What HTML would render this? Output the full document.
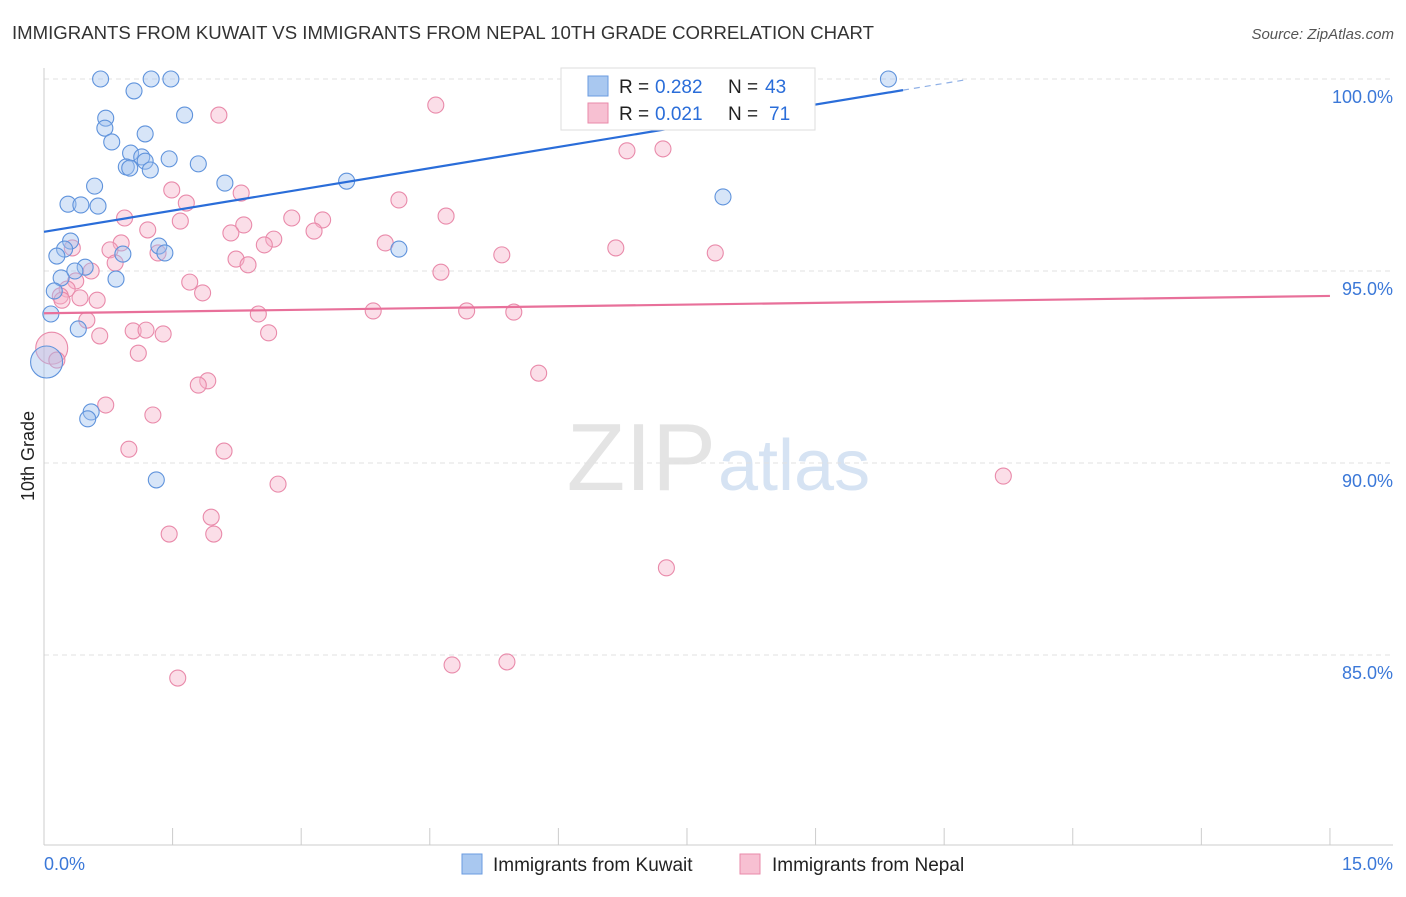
<!DOCTYPE html>
<html><head><meta charset="utf-8"><style>
body{margin:0;background:#fff;font-family:"Liberation Sans",sans-serif;}
svg text{font-family:"Liberation Sans",sans-serif;}
</style></head><body>
<svg id="chart" width="1406" height="892" viewBox="0 0 1406 892">
<text x="12" y="39" font-size="18.6" fill="#333">IMMIGRANTS FROM KUWAIT VS IMMIGRANTS FROM NEPAL 10TH GRADE CORRELATION CHART</text>
<text x="1394" y="39" font-size="15" fill="#555" font-style="italic" text-anchor="end">Source: ZipAtlas.com</text>
<text x="716" y="490" font-size="96" fill="#e4e4e4" text-anchor="end" font-family="Liberation Serif">ZIP</text>
<text x="718" y="490" font-size="72" fill="#d6e3f3">atlas</text>
<g id="grid"></g><g id="axes"></g><g id="marks"></g>
<text x="34" y="456" font-size="18" fill="#222" text-anchor="middle" transform="rotate(-90 34 456)">10th Grade</text>
<g>
<rect x="561" y="68" width="254" height="62" fill="#fff" stroke="#ddd"/>
<rect x="588" y="76" width="20" height="20" fill="#a9c8f0" stroke="#6a9be0"/>
<text x="619" y="93" font-size="19" fill="#222">R =</text>
<text x="655" y="93" font-size="19" fill="#2a6dd9">0.282</text>
<text x="728" y="93" font-size="19" fill="#222">N =</text>
<text x="765" y="93" font-size="19" fill="#2a6dd9">43</text>
<rect x="588" y="103" width="20" height="20" fill="#f7c0d2" stroke="#e98aaa"/>
<text x="619" y="120" font-size="19" fill="#222">R =</text>
<text x="655" y="120" font-size="19" fill="#2a6dd9">0.021</text>
<text x="728" y="120" font-size="19" fill="#222">N =</text>
<text x="769" y="120" font-size="19" fill="#2a6dd9">71</text>
</g>
<g>
<rect x="462" y="854" width="20" height="20" fill="#a9c8f0" stroke="#6a9be0"/>
<text x="493" y="871" font-size="19" fill="#222">Immigrants from Kuwait</text>
<rect x="740" y="854" width="20" height="20" fill="#f7c0d2" stroke="#e98aaa"/>
<text x="772" y="871" font-size="19" fill="#222">Immigrants from Nepal</text>
</g>
</svg>
<script>
const yTicks=[100,95,90,85];
const yTickLabels=["100.0%","95.0%","90.0%","85.0%"];
const xTicks=[0,1.5,3,4.5,6,7.5,9,10.5,12,13.5,15];
const kuwaitX=[0.66,1.25,1.48,9.85,1.05,1.64,0.72,0.71,1.18,0.79,1.01,1.14,1.46,0.96,1.00,1.18,1.24,1.80,2.11,3.53,0.59,7.92,0.28,0.43,0.63,0.31,0.24,1.34,1.41,0.92,0.15,4.14,0.48,0.36,0.20,0.84,0.12,0.08,0.40,0.03,0.55,0.51,1.31];
const kuwaitY=[100,100,100,100,99.69,99.06,98.98,98.72,98.57,98.36,98.07,97.97,97.92,97.71,97.68,97.86,97.63,97.79,97.29,97.34,97.21,96.93,96.74,96.72,96.69,95.78,95.57,95.65,95.47,95.44,95.39,95.57,95.10,95.00,94.82,94.79,94.48,93.88,93.49,92.63,91.33,91.15,89.56];
const kuwaitBig=[39];
const nepalX=[4.57,2.04,6.31,6.23,6.80,7.22,1.49,2.30,1.66,4.14,0.94,4.69,2.89,3.25,1.59,2.33,2.18,3.15,1.21,3.98,2.68,0.90,2.57,0.33,0.77,6.67,7.83,5.34,1.33,2.24,2.38,0.83,4.63,0.55,1.70,0.37,1.85,0.27,0.19,0.42,0.62,2.50,3.84,4.93,5.48,0.50,1.04,1.19,1.39,0.65,2.62,0.09,0.15,1.10,5.77,1.91,1.80,0.72,1.27,0.99,2.10,2.73,11.19,1.95,1.98,1.46,7.26,4.76,5.40,1.56,0.21];
const nepalY=[99.32,99.06,99.11,98.91,98.13,98.18,97.11,97.03,96.77,96.85,96.38,96.43,96.38,96.33,96.30,96.20,95.99,96.04,96.07,95.73,95.83,95.73,95.68,95.60,95.55,95.60,95.47,95.42,95.47,95.31,95.16,95.21,94.97,95.00,94.71,94.74,94.43,94.53,94.35,94.30,94.24,93.88,93.96,93.96,93.93,93.72,93.44,93.46,93.36,93.31,93.39,92.99,92.68,92.86,92.34,92.14,92.03,91.51,91.25,90.36,90.31,89.45,89.66,88.59,88.15,88.15,87.27,84.74,84.82,84.40,94.24];
const nepalBig=[51];
const kuwaitTrend=[[0,96.02],[10.02,99.71]];
const nepalTrend=[[0,93.90],[15,94.35]];
const NS="http://www.w3.org/2000/svg";
const X=v=>44+v*85.73, Y=v=>79+(100-v)*38.4;
function mk(t,a,p){const e=document.createElementNS(NS,t);for(const k in a)e.setAttribute(k,a[k]);p.appendChild(e);return e;}
const grid=document.getElementById('grid'),axes=document.getElementById('axes'),marks=document.getElementById('marks');
yTicks.forEach((v,i)=>{
 const l=mk('line',{x1:44,x2:1393,y1:Y(v),y2:Y(v),stroke:'#e2e2e2','stroke-dasharray':'5,4'},grid);
 
 
 const t=mk('text',{x:1393,y:Y(v)+24,'font-size':18,fill:'#3b78d8','text-anchor':'end'},axes);
 t.textContent=yTickLabels[i];
 
 
});
const ya=mk('line',{x1:44,x2:44,y1:68,y2:845,stroke:'#ccc'},axes);


const xa=mk('line',{x1:44,x2:1393,y1:845,y2:845,stroke:'#ccc'},axes);


xTicks.forEach(v=>{
 const l=mk('line',{x1:X(v),x2:X(v),y1:828,y2:845,stroke:'#ccc'},axes);
 
 
});
const x0=mk('text',{x:44,y:870,'font-size':18,fill:'#3b78d8'},axes);x0.textContent='0.0%';


const x1=mk('text',{x:1393,y:870,'font-size':18,fill:'#3b78d8','text-anchor':'end'},axes);x1.textContent='15.0%';


function pts(xs,ys,big,fill,stroke,name){
 xs.forEach((x,i)=>{
  const b=big.includes(i);
  const c=mk('circle',{cx:X(x),cy:Y(ys[i]),r:b?16:8,fill:fill,'fill-opacity':0.42,stroke:stroke,'stroke-width':1.1},marks);
  
  
 });
}
pts(nepalX,nepalY,nepalBig,'#f5b0c8','#e98aaa','nepal-point');
pts(kuwaitX,kuwaitY,kuwaitBig,'#9fc1ee','#5f93dc','kuwait-point');
const kl=mk('line',{x1:X(kuwaitTrend[0][0]),y1:Y(kuwaitTrend[0][1]),x2:X(kuwaitTrend[1][0]),y2:Y(kuwaitTrend[1][1]),stroke:'#2a6dd9','stroke-width':2.2},marks);


const slope=(kuwaitTrend[1][1]-kuwaitTrend[0][1])/(kuwaitTrend[1][0]-kuwaitTrend[0][0]);
const kd=mk('line',{x1:X(kuwaitTrend[1][0]),y1:Y(kuwaitTrend[1][1]),x2:X(10.75),y2:Y(kuwaitTrend[1][1]+slope*(10.75-kuwaitTrend[1][0])),stroke:'#8fb0e6','stroke-width':1.2,'stroke-dasharray':'6,5'},marks);


const nl=mk('line',{x1:X(nepalTrend[0][0]),y1:Y(nepalTrend[0][1]),x2:X(nepalTrend[1][0]),y2:Y(nepalTrend[1][1]),stroke:'#e8709a','stroke-width':2.2},marks);


</script>
</body></html>
